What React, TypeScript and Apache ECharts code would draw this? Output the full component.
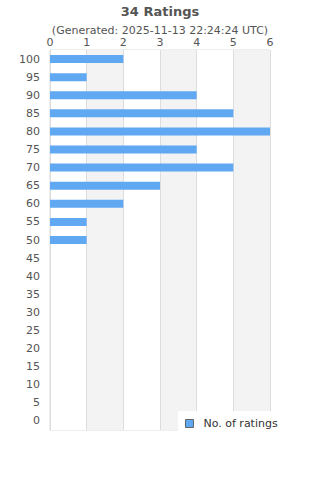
import React, { useEffect, useRef } from "react";
import * as echarts from "echarts";

const categories = ["0","5","10","15","20","25","30","35","40","45","50","55","60","65","70","75","80","85","90","95","100"];
const ratings = [0,0,0,0,0,0,0,0,0,0,1,1,2,3,5,4,6,5,4,1,2];
const titleText = "34 Ratings";
const subtitleText = "(Generated: 2025-11-13 22:24:24 UTC)";
const seriesName = "No. of ratings";

export default function App() {
  const ref = useRef<HTMLDivElement>(null);
  useEffect(() => {
    const chart = echarts.init(ref.current!, undefined, { renderer: "svg" });
    const font = "DejaVu Sans";
    chart.setOption({
      animation: false,
      textStyle: { fontFamily: font },
      title: {
        text: titleText,
        subtext: subtitleText,
        left: "center",
        top: 0,
        itemGap: 7,
        textStyle: { fontSize: 13, fontWeight: "bold", color: "#555", fontFamily: font },
        subtextStyle: { fontSize: 11, color: "#555", fontFamily: font },
      },
      legend: {
        data: [{ name: seriesName, icon: "rect" }],
        left: 178,
        top: 411,
        backgroundColor: "#fff",
        padding: [7, 40, 8, 7],
        itemWidth: 8,
        itemHeight: 8,
        itemGap: 10,
        itemStyle: { borderColor: "#666", borderWidth: 1 },
        textStyle: { fontSize: 11, color: "#333", fontFamily: font, padding: [0, 0, 0, 5] },
      },
      grid: { left: 50, right: 50, top: 50, bottom: 50, show: true, borderColor: "#ddd", borderWidth: 1 },
      xAxis: {
        type: "value",
        position: "top",
        min: 0,
        max: 6,
        interval: 1,
        axisLine: { show: false },
        axisTick: { show: false },
        axisLabel: { fontSize: 11, color: "#555", margin: 2 },
        splitLine: { show: true, lineStyle: { color: "#ddd" } },
        splitArea: { show: true, areaStyle: { color: ["#fff", "#f3f3f3"] } },
      },
      yAxis: {
        type: "category",
        data: categories,
        axisLine: { show: true, lineStyle: { color: "#ddd" } },
        axisTick: { show: false },
        axisLabel: { fontSize: 11, color: "#555", margin: 10, interval: 0 },
      },
      series: [
        {
          name: seriesName,
          type: "bar",
          data: ratings,
          barWidth: 8,
          itemStyle: { color: "#60a8f2" },
        },
      ],
    });
    return () => chart.dispose();
  }, []);
  return <div ref={ref} style={{ width: 320, height: 480, position: "absolute", left: 0, top: 0 }} />;
}
